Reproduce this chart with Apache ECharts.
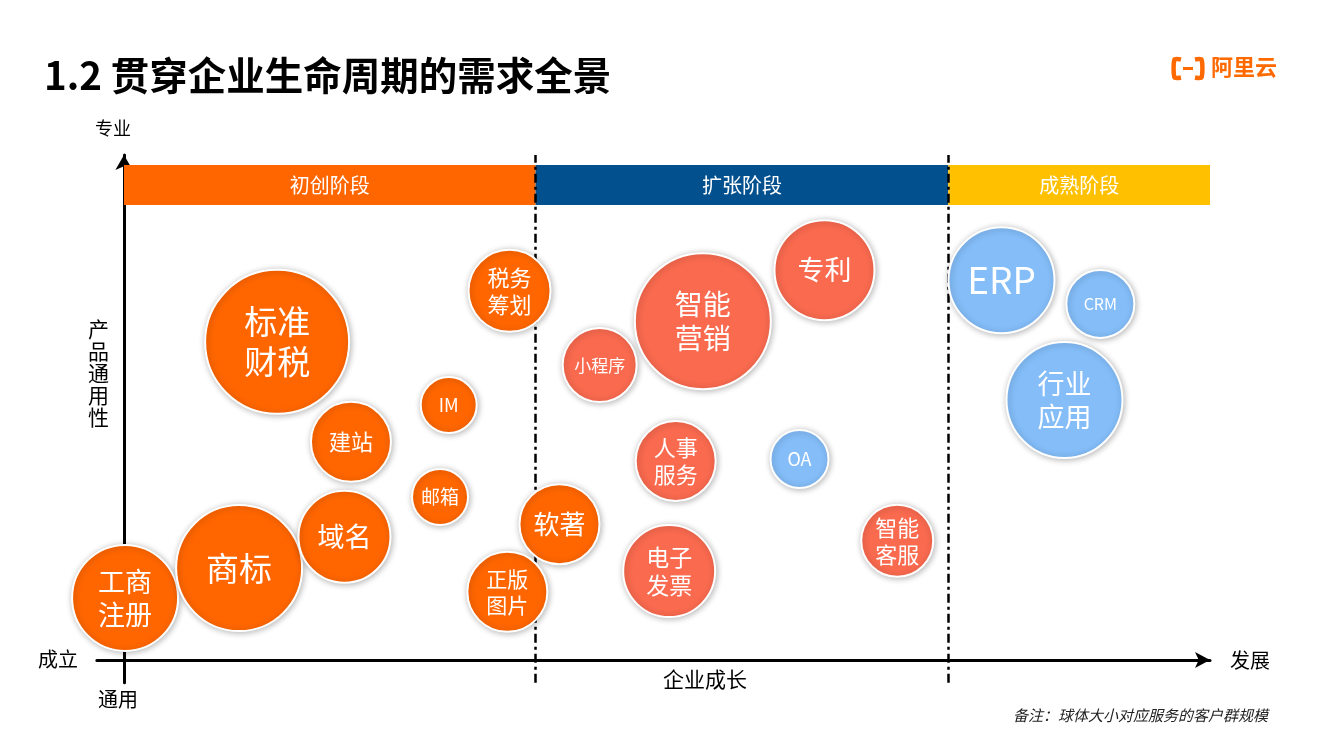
<!DOCTYPE html>
<html><head><meta charset="utf-8">
<script src="https://cdn.jsdelivr.net/npm/echarts@6/dist/echarts.min.js"></script>
<style>html,body{margin:0;padding:0;background:#fff}#c{width:1333px;height:750px}</style>
</head><body><div id="c"></div>
<script>
// ---- data ----
const names = ['工商\n注册','商标','域名','标准\n财税','建站','IM','邮箱','税务\n筹划','软著','正版\n图片','小程序','智能\n营销','专利','人事\n服务','电子\n发票','OA','智能\n客服','ERP','CRM','行业\n应用'];
const xValues = [0.1,10.6,20.3,14.1,20.9,29.9,29.1,35.5,40.1,35.3,43.8,53.3,64.5,50.8,50.2,62.2,71.2,80.8,89.9,86.6];
const yValues = [12.3,18.2,24.4,63.0,43.2,50.5,32.3,73.1,26.9,13.5,58.4,67.1,77.2,39.4,17.6,39.8,23.6,75.2,70.5,51.5];
const sizes   = [106,126,92,144,80,56,56,82,80,80,74,136,100,80,92,58,72,106,68,116];
const groups  = [0,0,0,0,0,0,0,0,0,0,1,1,1,1,1,2,1,2,2,2];
const stageNames = ['初创阶段','扩张阶段','成熟阶段'];
const stageBounds = [0, 37.9, 75.9, 100];
const stageBand = [90.1, 98.0];

// ---- styles ----
const groupColors = ['#FF6600', '#F96A4F', '#84BDF8'];
const stageColors = ['#FF6600', '#03508F', '#FFC000'];
const labelFont = {'工商\n注册':27,'商标':33,'域名':27,'标准\n财税':33,'建站':22,'IM':18,'邮箱':19,'税务\n筹划':22,'软著':26,'正版\n图片':21,'小程序':17,'智能\n营销':28,'专利':27,'人事\n服务':22,'电子\n发票':23,'OA':18,'智能\n客服':22,'ERP':37,'CRM':16,'行业\n应用':27};
const FONT = '"Noto Sans CJK SC", "Noto Sans", sans-serif';

const xUnit = 10.86, yUnit = 5.05, xMin = -2.5, xMax = 100, yMin = -4.5, yMax = 100;
const originX = 124, originY = 660;
const grid = {
  left: originX + xMin * xUnit,
  width: (xMax - xMin) * xUnit,
  top: originY - yMax * yUnit,
  height: (yMax - yMin) * yUnit
};

const series = [0,1,2].map(g => ({
  type: 'scatter',
  name: 'g' + g,
  z: 5,
  symbolSize: v => v[2],
  itemStyle: {
    color: groupColors[g],
    borderColor: '#fff',
    borderWidth: 2,
    shadowBlur: 6,
    shadowColor: 'rgba(0,0,0,0.28)',
    shadowOffsetX: 1,
    shadowOffsetY: 1,
    opacity: 1
  },
  emphasis: {disabled: true},
  data: names.map((n, i) => ({n, i})).filter(o => groups[o.i] === g).map(o => {
    const fs = labelFont[o.n] || 20;
    return {
      name: o.n,
      value: [xValues[o.i], yValues[o.i], sizes[o.i]],
      label: {
        show: true, position: 'inside', formatter: '{b}', color: '#fff',
        fontFamily: FONT, fontSize: fs, lineHeight: Math.round(fs * 1.22)
      }
    };
  })
}));

series.push({
  type: 'scatter',
  name: 'stages',
  data: [],
  z: 2,
  markArea: {
    silent: true,
    label: {show: true, position: 'inside', color: '#fff', fontFamily: FONT, fontSize: 20},
    data: stageNames.map((s, k) => [
      {name: s, xAxis: stageBounds[k], yAxis: stageBand[0], itemStyle: {color: stageColors[k], opacity: 1}},
      {xAxis: stageBounds[k + 1], yAxis: stageBand[1]}
    ])
  },
  markLine: {
    silent: true,
    symbol: ['none', 'none'],
    label: {show: false},
    lineStyle: {color: '#000', width: 2.5, type: [9, 4, 3, 4]},
    data: [{xAxis: stageBounds[1]}, {xAxis: stageBounds[2]}]
  }
});

const chart = echarts.init(document.getElementById('c'));
chart.setOption({
  backgroundColor: '#fff',
  animation: false,
  title: {
    text: '1.2 贯穿企业生命周期的需求全景',
    left: 39, top: 51,
    textStyle: {fontFamily: FONT, fontSize: 38.5, fontWeight: 'bold', color: '#000'}
  },
  grid: grid,
  xAxis: {
    type: 'value', min: xMin, max: xMax,
    axisLine: {onZero: true, symbol: ['none', 'arrow'], symbolSize: [12, 15], symbolOffset: [0, 0], lineStyle: {color: '#000', width: 3}},
    axisTick: {show: false}, axisLabel: {show: false}, splitLine: {show: false},
    name: '发展', nameLocation: 'end', nameGap: 20,
    nameTextStyle: {fontFamily: FONT, fontSize: 20, color: '#000'}
  },
  yAxis: {
    type: 'value', min: yMin, max: yMax,
    axisLine: {onZero: true, symbol: ['none', 'arrow'], symbolSize: [13, 15], lineStyle: {color: '#000', width: 3}},
    axisTick: {show: false}, axisLabel: {show: false}, splitLine: {show: false},
    name: '专业', nameLocation: 'end', nameGap: 18,
    nameTextStyle: {fontFamily: FONT, fontSize: 18, color: '#000', padding: [0, 22, 0, 0]}
  },
  graphic: [
    {type: 'text', left: 38, top: 649, style: {text: '成立', fontFamily: FONT, fontSize: 20, fill: '#000'}},
    {type: 'text', left: 98, top: 689, style: {text: '通用', fontFamily: FONT, fontSize: 20, fill: '#000'}},
    {type: 'text', left: 663, top: 669, style: {text: '企业成长', fontFamily: FONT, fontSize: 21, fill: '#000'}},
    {type: 'text', left: 88, top: 318, style: {text: '产\n品\n通\n用\n性', fontFamily: FONT, fontSize: 21, lineHeight: 22, fill: '#000'}},
    {type: 'text', right: 65, top: 708, style: {text: '备注：球体大小对应服务的客户群规模', fontFamily: FONT, fontSize: 15, fontStyle: 'italic', fill: '#222'}},
    {type: 'polyline', shape: {points: [[1181, 59.5], [1174.5, 59.5], [1174.5, 77.5], [1181, 77.5]], smooth: 0.25}, style: {stroke: '#FF6A00', lineWidth: 4.5, fill: null, lineJoin: 'round'}},
    {type: 'polyline', shape: {points: [[1195, 59.5], [1201.5, 59.5], [1201.5, 77.5], [1195, 77.5]], smooth: 0.25}, style: {stroke: '#FF6A00', lineWidth: 4.5, fill: null, lineJoin: 'round'}},
    {type: 'rect', shape: {x: 1183, y: 67, width: 10, height: 3}, style: {fill: '#FF6A00'}},
    {type: 'text', left: 1211, top: 56, style: {text: '阿里云', fontFamily: FONT, fontSize: 22, fontWeight: 'bold', fill: '#FF6A00'}}
  ],
  series: series
});
</script>
</body></html>
